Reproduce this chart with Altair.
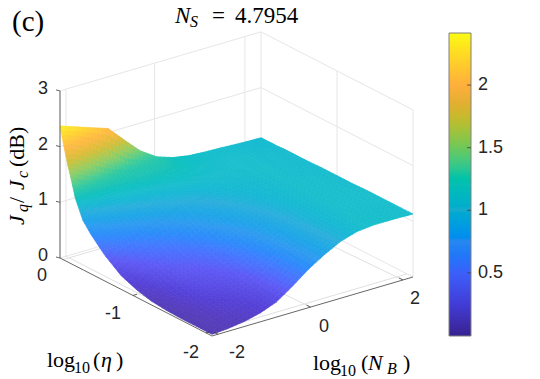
import altair as alt
import pandas as pd

# fractional position along each horizontal axis of the box
nb_pos = [0, .04, .08, .16, .24, .32, .40, .48, .56, .64, .72, .80, .90, 1.0]
eta_pos = [0, .025, .05, .075, .1, .15, .2, .25, .3, .4, .5, .6, .7, .8, .9, 1.0]
# J_q/J_c (dB): one row per eta position, one column per N_B position
z_rows = [
    [2.37, 2.32, 2.27, 2.17, 2.07, 1.78, 1.50, 1.31, 1.21, 1.16, 1.14, 1.13, 1.11, 1.10],
    [2.05, 2.03, 1.97, 1.80, 1.58, 1.36, 1.32, 1.28, 1.20, 1.16, 1.14, 1.13, 1.11, 1.10],
    [1.75, 1.71, 1.63, 1.44, 1.32, 1.30, 1.29, 1.26, 1.19, 1.15, 1.14, 1.13, 1.11, 1.10],
    [1.50, 1.38, 1.33, 1.30, 1.28, 1.27, 1.26, 1.24, 1.19, 1.15, 1.14, 1.13, 1.11, 1.10],
    [1.22, 1.23, 1.23, 1.23, 1.23, 1.24, 1.23, 1.22, 1.18, 1.15, 1.13, 1.13, 1.11, 1.10],
    [0.89, 1.00, 1.05, 1.11, 1.14, 1.16, 1.17, 1.18, 1.16, 1.14, 1.13, 1.13, 1.12, 1.11],
    [0.72, 0.80, 0.88, 0.99, 1.05, 1.09, 1.12, 1.14, 1.14, 1.13, 1.13, 1.13, 1.12, 1.11],
    [0.58, 0.66, 0.72, 0.84, 0.95, 1.01, 1.06, 1.09, 1.12, 1.12, 1.12, 1.13, 1.12, 1.11],
    [0.45, 0.55, 0.62, 0.72, 0.82, 0.93, 1.00, 1.05, 1.10, 1.11, 1.12, 1.13, 1.12, 1.11],
    [0.25, 0.33, 0.42, 0.54, 0.64, 0.75, 0.87, 0.97, 1.05, 1.09, 1.11, 1.13, 1.12, 1.12],
    [0.14, 0.21, 0.31, 0.43, 0.50, 0.62, 0.77, 0.89, 1.00, 1.07, 1.11, 1.13, 1.13, 1.12],
    [0.07, 0.12, 0.21, 0.36, 0.40, 0.50, 0.68, 0.82, 0.95, 1.05, 1.11, 1.13, 1.13, 1.12],
    [0.04, 0.08, 0.15, 0.28, 0.33, 0.42, 0.60, 0.77, 0.92, 1.03, 1.10, 1.13, 1.13, 1.13],
    [0.03, 0.06, 0.11, 0.20, 0.27, 0.35, 0.53, 0.73, 0.90, 1.02, 1.10, 1.13, 1.13, 1.13],
    [0.03, 0.05, 0.08, 0.14, 0.20, 0.30, 0.48, 0.71, 0.88, 1.02, 1.10, 1.14, 1.14, 1.13],
    [0.03, 0.04, 0.05, 0.09, 0.16, 0.27, 0.47, 0.69, 0.87, 1.02, 1.11, 1.14, 1.14, 1.13],
]
# the lit surface is paler than the flat colour bar, so each has its own ramp
surface_domain = [0.03, 0.2, 0.4, 0.6, 0.8, 1.0, 1.13, 1.25, 1.4, 1.6, 1.8, 2.0, 2.2, 2.4]
surface_range = ["#553cb4", "#5541d7", "#5f5af5", "#417dff", "#329bf0", "#2dafdc", "#1bbecd",
                 "#1ec3b4", "#46cd96", "#96cd64", "#d7be3c", "#ffb946", "#ffd732", "#faf528"]
bar_domain = [0.0, 0.25, 0.5, 0.75, 1.0, 1.2, 1.35, 1.5, 1.75, 1.85, 2.0, 2.2, 2.416]
bar_range = ["#372391", "#413cd7", "#3c5ffa", "#2887f0", "#19aacd", "#0abeb4", "#32c88c",
             "#6ec85a", "#c8b92d", "#e1af32", "#ffaf3c", "#ffd228", "#fafa14"]
colorbar_ticks = [0.5, 1, 1.5, 2]
colorbar_labels = ["0.5", "1", "1.5", "2"]

W, H = 524, 369
OX, OY = 8, 8
ORIGIN = (60, 258)      # left corner of the floor, in page pixels
NB_VEC = (201, -59)
ETA_VEC = (152, 78)
Z_UNIT = 55.7
SHADE = 4               # sub-patches per cell side: interpolated shading of each cell
BAR_TOP, BAR_BOTTOM, BAR_LEFT, BAR_RIGHT = 33, 336, 449, 471
BAR_MAX = 2.416
BAR_UNIT = 125.2


def proj(t, s, z=0.0):
    return (ORIGIN[0] + NB_VEC[0] * t + ETA_VEC[0] * s - OX,
            ORIGIN[1] + NB_VEC[1] * t + ETA_VEC[1] * s - Z_UNIT * z - OY)


def shade_point(i, j, u, v):
    t = nb_pos[j] * (1 - u) + nb_pos[j + 1] * u
    s = eta_pos[i] * (1 - v) + eta_pos[i + 1] * v
    z = ((1 - u) * (1 - v) * z_rows[i][j] + u * (1 - v) * z_rows[i][j + 1]
         + (1 - u) * v * z_rows[i + 1][j] + u * v * z_rows[i + 1][j + 1])
    return t, s, z


# surface patches, painted from the back corner forwards, shaded like MATLAB's "interp"
features = []
for i in range(len(eta_pos) - 1):
    for a in range(SHADE):
        for j in range(len(nb_pos) - 2, -1, -1):
            for b in range(SHADE - 1, -1, -1):
                pts = [shade_point(i, j, (b + du) / SHADE, (a + dv) / SHADE)
                       for du, dv in [(0, 0), (1, 0), (1, 1), (0, 1)]]
                ring = [list(proj(*p)) for p in pts]
                ring.append(ring[0])
                mean = sum(p[2] for p in pts) / 4
                features.append({"type": "Feature", "properties": {"z": mean},
                                 "geometry": {"type": "Polygon", "coordinates": [ring]}})

surface_scale = alt.Scale(domain=surface_domain, range=surface_range, clamp=True)
bar_scale = alt.Scale(domain=bar_domain, range=bar_range, clamp=True)
surface = alt.Chart(alt.Data(values=features)).mark_geoshape(strokeWidth=0.7).encode(
    color=alt.Color("properties.z:Q", scale=surface_scale, legend=None),
    stroke=alt.Stroke("properties.z:Q", scale=surface_scale, legend=None),
).project(type="identity", scale=1, translate=[0, 0])

x_pix = alt.Scale(domain=[0, W], range=[0, W])
y_pix = alt.Scale(domain=[0, H], range=[0, H])


def seg_layer(segs, color, width):
    rows = [{"x": a[0], "y": a[1], "x2": b[0], "y2": b[1]} for a, b in segs]
    return alt.Chart(pd.DataFrame(rows)).mark_rule(color=color, strokeWidth=width).encode(
        x=alt.X("x:Q", scale=x_pix, axis=None),
        y=alt.Y("y:Q", scale=y_pix, axis=None),
        x2="x2:Q", y2="y2:Q")


z_levels = [0, 1, 2, 3]
grid = []
for z in z_levels:
    grid.append((proj(0, 0, z), proj(1, 0, z)))
    grid.append((proj(1, 0, z), proj(1, 1, z)))
for t in [.03, .47, .92, 1.0]:
    grid.append((proj(t, 0, 0), proj(t, 0, 3)))
for s in [.5, 1.0]:
    grid.append((proj(1, s, 0), proj(1, s, 3)))
grid.append((proj(0, 0, 0), proj(0, 0, 3)))
floor_lines = []
for t0, t1 in [(.03, .03), (.47, .49), (.92, .95)]:
    floor_lines.append((proj(t0, 0, 0), proj(t1, 1, 0)))
for s in [0.02, .48, .96]:
    floor_lines.append((proj(0, s, 0), proj(1, s, 0)))

axes = [(proj(0, 0, 0), proj(0, 0, 3)), (proj(0, 0, 0), proj(0, 1, 0)), (proj(0, 1, 0), proj(1, 1, 0))]
ticks = []
for z in z_levels:
    p = proj(0, 0, z)
    ticks.append(((p[0] - 4, p[1] - 1), p))
for s in [.48, .96]:
    p = proj(0, s, 0)
    ticks.append(((p[0] + 4, p[1] - 1.2), p))
for t in [.03, .49, .95]:
    p = proj(t, 1, 0)
    ticks.append(((p[0] - 4, p[1] - 2), p))


def bar_y(v):
    return BAR_TOP - OY + (BAR_MAX - v) * BAR_UNIT


# colour bar: one thin rect per pixel row
bar_rows = []
for k in range(BAR_BOTTOM - BAR_TOP):
    y0 = BAR_TOP - OY + k
    bar_rows.append({"x": BAR_LEFT - OX, "x2": BAR_RIGHT - OX, "y": y0, "y2": y0 + 1,
                     "v": BAR_MAX - (k + 0.5) / BAR_UNIT})
colorbar = alt.Chart(pd.DataFrame(bar_rows)).mark_rect().encode(
    x=alt.X("x:Q", scale=x_pix, axis=None), x2="x2:Q",
    y=alt.Y("y:Q", scale=y_pix, axis=None), y2="y2:Q",
    color=alt.Color("v:Q", scale=bar_scale, legend=None))
L, R, T, B = BAR_LEFT - OX, BAR_RIGHT - OX, BAR_TOP - OY, BAR_BOTTOM - OY
bar_box = [((L, T), (R, T)), ((R, T), (R, B)), ((R, B), (L, B)), ((L, B), (L, T))]
bar_ticks = [((R - 4, bar_y(v)), (R, bar_y(v))) for v in colorbar_ticks]


def txt(s, x, y, size, font="Liberation Serif", style="normal", color="black", align="left",
        baseline="alphabetic", angle=0):
    return alt.Chart(pd.DataFrame({"t": [s]})).mark_text(
        font=font, fontSize=size, fontStyle=style, color=color, align=align, baseline=baseline,
        angle=angle).encode(text="t:N", x=alt.value(x - OX), y=alt.value(y - OY))


def tick_label(s, x, y, align="center"):
    return txt(s, x, y, 18, font="Liberation Sans", color="#262626", align=align, baseline="middle")


labels = [
    txt("(c)", 12, 31, 29),
    txt("N", 175, 23, 23, style="italic"), txt("S", 190, 27, 16, style="italic"),
    txt("=", 212, 23, 23), txt("4.7954", 235, 23, 23),
    tick_label("3", 43, 89), tick_label("2", 43, 145), tick_label("1", 43, 200), tick_label("0", 43, 256),
    tick_label("0", 42, 276), tick_label("-1", 113, 314), tick_label("-2", 191, 353),
    tick_label("-2", 237, 353), tick_label("0", 324, 327), tick_label("2", 415, 299),
    txt("log", 47, 367, 22), txt("10", 74, 373, 16), txt("(", 93, 367, 22),
    txt("η", 101, 367, 22, style="italic"), txt(")", 116, 367, 22),
    txt("log", 313, 370, 22), txt("10", 340, 376, 16), txt("(", 361, 370, 22),
    txt("N", 368, 370, 22, style="italic"), txt("B", 387, 374, 16, style="italic"), txt(")", 403, 370, 22),
    txt("J", 24, 225, 22, style="italic", angle=270), txt("q", 28, 212, 16, style="italic", angle=270),
    txt("/", 24, 203, 22, angle=270), txt("J", 24, 190, 22, style="italic", angle=270),
    txt("c", 28, 178, 16, style="italic", angle=270), txt("(dB)", 24, 167, 22, angle=270),
]
for v, lab in zip(colorbar_ticks, colorbar_labels):
    labels.append(tick_label(lab, 478, bar_y(v) + OY, align="left"))

chart = alt.layer(
    seg_layer(grid, "#e6e6e6", 1),
    seg_layer(floor_lines, "#e0e0e0", 1),
    surface,
    seg_layer(axes, "#404040", 0.8),
    seg_layer(ticks, "#404040", 0.8),
    colorbar,
    seg_layer(bar_box, "#808080", 1),
    seg_layer(bar_ticks, "#404040", 0.8),
    *labels,
).resolve_scale(x="shared", y="shared", color="independent").properties(
    width=W, height=H, padding=0, autosize=alt.AutoSizeParams(type="none"),
).configure_view(stroke=None)

chart.save("out.html", embed_options={"renderer": "svg", "actions": False})
